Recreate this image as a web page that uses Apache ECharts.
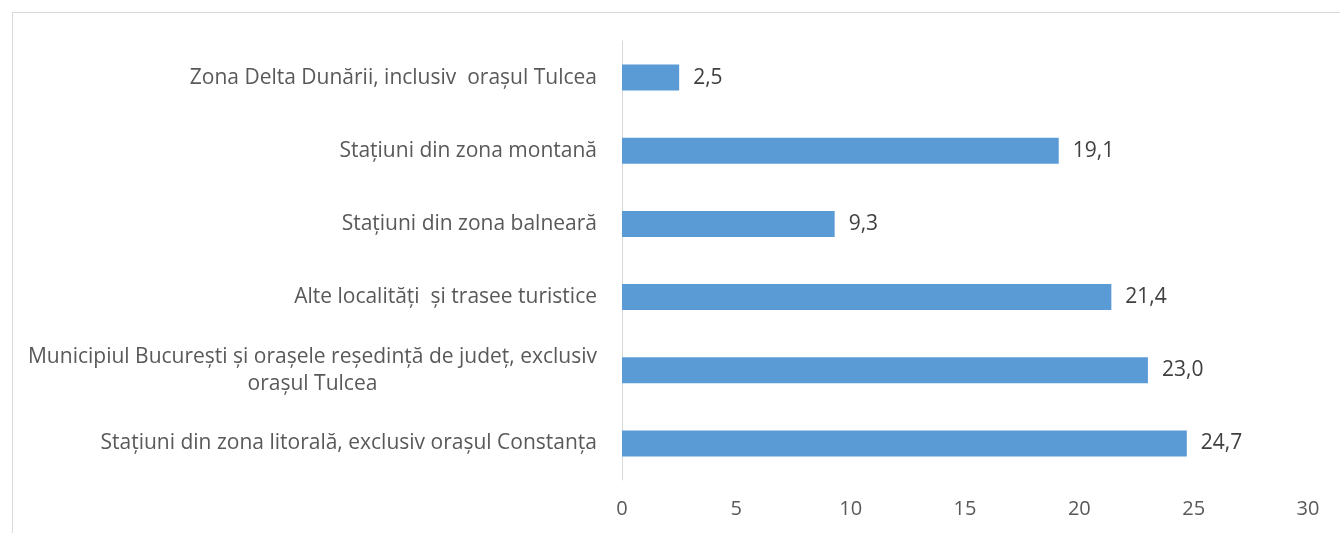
<!DOCTYPE html>
<html><head><meta charset="utf-8">
<script src="https://cdn.jsdelivr.net/npm/echarts@6/dist/echarts.min.js"></script>
<style>html,body{margin:0;padding:0;background:#fff}#c{width:1340px;height:533px;position:relative}
#frame{position:absolute;left:12px;top:12px;width:1340px;height:540px;border:1px solid #d9d9d9;box-sizing:border-box;pointer-events:none}</style>
</head><body><div id="c"></div><div id="frame"></div>
<script>
const categories = [
  "Zona Delta Dunării, inclusiv  orașul Tulcea",
  "Stațiuni din zona montană",
  "Stațiuni din zona balneară",
  "Alte localități  și trasee turistice",
  "Municipiul București și orașele reședință de județ, exclusiv\norașul Tulcea",
  "Stațiuni din zona litorală, exclusiv orașul Constanța"
];
const values = [2.5, 19.1, 9.3, 21.4, 23.0, 24.7];
const xTicks = [0, 5, 10, 15, 20, 25, 30];

const font = "'Open Sans', sans-serif";
const chart = echarts.init(document.getElementById('c'));
chart.setOption({
  animation: false,
  grid: {left: 622, right: 32, top: 41, bottom: 53, containLabel: false},
  xAxis: {
    type: 'value', min: xTicks[0], max: xTicks[xTicks.length-1], interval: 5,
    axisLine: {show: false}, axisTick: {show: false}, splitLine: {show: false},
    axisLabel: {color: '#595959', fontFamily: font, fontSize: 20, margin: 19}
  },
  yAxis: {
    type: 'category', inverse: true, data: categories,
    axisLine: {show: true, lineStyle: {color: '#d9d9d9', width: 1}},
    axisTick: {show: false},
    axisLabel: {
      color: '#595959', fontFamily: font, fontSize: 21, margin: 25, lineHeight: 27,
      formatter: function (v) { return v.split('\n').map(s => '{c|' + s + '}').join('\n'); },
      rich: {c: {align: 'center', color: '#595959', fontFamily: font, fontSize: 21, lineHeight: 27}}
    }
  },
  series: [{
    type: 'bar', data: values, barWidth: 26,
    itemStyle: {color: '#5b9bd5'},
    label: {show: true, position: 'right', distance: 14, color: '#404040', fontFamily: font, fontSize: 21,
      formatter: p => p.value.toFixed(1).replace('.', ',')}
  }]
});
</script></body></html>
